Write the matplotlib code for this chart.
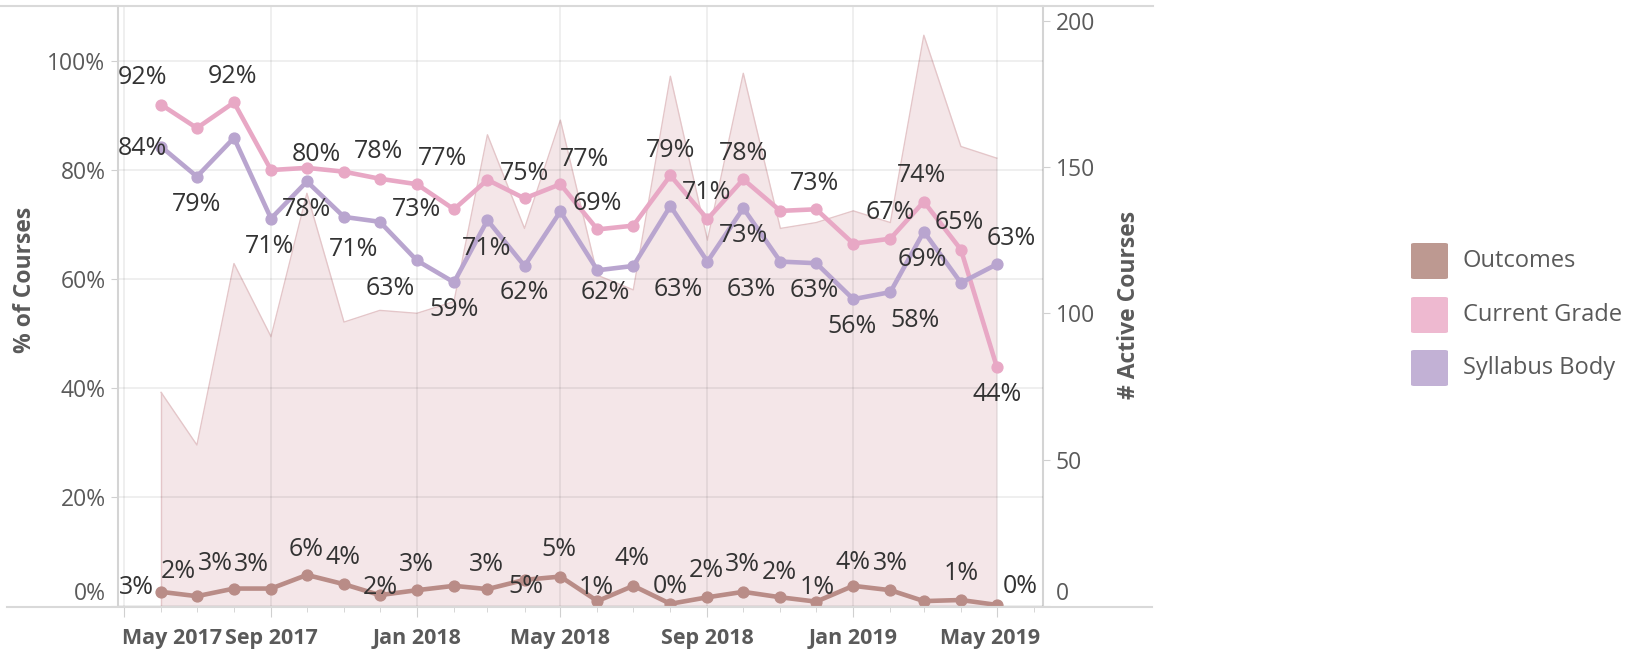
import numpy as np
import pandas as pd
import matplotlib
matplotlib.use("Agg")
import matplotlib.pyplot as plt
import matplotlib.dates as mdates
import matplotlib.transforms as mtransforms
from matplotlib.patches import FancyBboxPatch
from matplotlib.lines import Line2D
from matplotlib.ticker import PercentFormatter

# ---- data ----
months = pd.date_range("2017-06-01", "2019-05-01", freq="MS")
tick_months = pd.date_range("2017-05-01", "2019-05-01", freq="4MS")
tick_labels = ["May 2017", "Sep 2017", "Jan 2018", "May 2018", "Sep 2018", "Jan 2019", "May 2019"]
active_courses = [73, 55, 117, 92, 141, 97, 101, 100, 104, 161, 129, 166,
                  113, 108, 181, 125, 182, 129, 131, 135, 131, 195, 157, 153]
outcomes = [0.026, 0.018, 0.032, 0.032, 0.057, 0.040, 0.020, 0.029, 0.037, 0.031, 0.048, 0.054,
            0.009, 0.037, 0.004, 0.016, 0.026, 0.016, 0.008, 0.037, 0.029, 0.009, 0.011, 0.002]
current_grade = [0.920, 0.877, 0.924, 0.800, 0.804, 0.797, 0.784, 0.774, 0.728, 0.782, 0.748, 0.774,
                 0.691, 0.698, 0.790, 0.710, 0.783, 0.725, 0.728, 0.665, 0.674, 0.742, 0.654, 0.439]
syllabus_body = [0.843, 0.788, 0.859, 0.711, 0.779, 0.714, 0.705, 0.634, 0.594, 0.708, 0.624, 0.724,
                 0.616, 0.624, 0.734, 0.632, 0.730, 0.632, 0.629, 0.563, 0.576, 0.687, 0.593, 0.627]
series_names = ["Outcomes", "Current Grade", "Syllabus Body"]

# label placement (pixel offsets from the point, None = hidden like in Tableau)
out_offsets = [(-25, 4), (-19, 25), (-19, 25), (-20, 24), (-1, 25), (-1, 27), (0, 8), (0, 26), None,
               (-1, 25), (1, -7), (-1, 27), (-1, 14), (-1, 27), (0, 17), (-1, 27), (-1, 27), (-1, 25),
               (1, 14), (0, 23), (0, 27), None, (0, 27), (23, 18)]
cg_offsets = [(-19, 27), None, (-1, 26), None, (9, 13), None, (-1, 27), (26, 26), (-37, 0), None,
              (0, 25), (24, 25), (0, 26), None, (0, 25), (-1, 27), (0, 26), None, (-2, 26), None,
              (0, 26), (-2, 26), (-2, 27), (0, -28)]
sb_offsets = [(-19, -2), (0, -28), None, (-1, -28), (0, -28), (10, -33), None, (-27, -28), (0, -27),
              (-1, -28), (0, -27), None, (8, -22), None, None, (-29, -28), (0, -27), (-29, -28),
              (-2, -27), (-1, -27), (25, -28), (-2, -28), None, (14, 26)]

line_colors = ["#b98c87", "#e8a8c5", "#b9a5cf"]
legend_colors = ["#bd9991", "#eeb9d0", "#c2b1d5"]
GRID = "#000000"
TXT = "#5a5a5a"

plt.rcParams["font.family"] = ["Open Sans", "DejaVu Sans"]

W, H = 1637, 649
fig = plt.figure(figsize=(W / 100, H / 100), dpi=100)


def shift(text, dx, dy):
    # move a text artist by a few pixels
    text.set_transform(text.get_transform() +
                       mtransforms.ScaledTranslation(dx / 100, dy / 100, fig.dpi_scale_trans))


# plot area in pixels: x 118..1043, y 6..606 (top origin)
ax1 = fig.add_axes([118 / W, (H - 606) / H, (1043 - 118) / W, 600 / H])
ax2 = ax1.twinx()

# active courses area on the right axis
ax2.fill_between(months, active_courses, 0, color="#d79ea5", alpha=0.25, lw=0)
ax2.plot(months, active_courses, color="#e4c6c9", lw=1.0)
ax2.vlines(months[0], 0, active_courses[0], color="#e4c6c9", lw=1.0)
ax2.set_ylim(0, 205)
ax2.set_yticks([0, 50, 100, 150, 200])
ax2.tick_params(axis="y", length=5, color="#d0d0d0", labelcolor=TXT, labelsize=16.5, pad=4)
ax2.set_ylabel("# Active Courses", fontsize=16.5, fontweight="bold", color=TXT)
ax2.yaxis.set_label_coords(1.0805, 0.502)

ax1.set_zorder(ax2.get_zorder() + 1)
ax1.patch.set_visible(False)

for vals, col, offs in zip([outcomes, current_grade, syllabus_body], line_colors,
                           [out_offsets, cg_offsets, sb_offsets]):
    ax1.plot(months, vals, color=col, lw=3.3, marker="o", ms=7.8, solid_joinstyle="round",
             solid_capstyle="round", zorder=3)
    for d, v, o in zip(months, vals, offs):
        if o is None:
            continue
        ax1.annotate(f"{v:.0%}", (d, v), xytext=o, textcoords="offset pixels",
                     ha="center", va="center", fontsize=18, color="#333333", zorder=5)

ax1.set_ylim(0, 1.101)
ax1.set_yticks(np.arange(0, 1.01, 0.2))
ax1.yaxis.set_major_formatter(PercentFormatter(1.0, decimals=0))
ax1.tick_params(axis="y", length=5, color="#d0d0d0", labelcolor=TXT, labelsize=16.5, pad=4)
ax1.set_ylabel("% of Courses", fontsize=16.5, fontweight="bold", color=TXT)
ax1.yaxis.set_label_coords(-0.0876, 0.543)

ax1.set_xlim(pd.Timestamp("2017-04-26"), pd.Timestamp("2019-06-08 16:00"))
ax1.set_xticks(tick_months)
ax1.set_xticklabels(tick_labels, fontweight="bold")
ax1.xaxis.set_minor_locator(mdates.MonthLocator())
ax1.tick_params(axis="x", which="major", length=8, color="#d0d0d0", labelcolor=TXT,
                labelsize=15.5, pad=8)
ax1.tick_params(axis="x", which="minor", length=4, color="#d0d0d0")

ax1.grid(True, which="major", color=GRID, alpha=0.075, lw=1.2)
ax1.set_axisbelow(True)

# Tableau nudges edge labels inside the pane
xl = ax1.get_xticklabels()
xl[0].set_horizontalalignment("left")
shift(xl[0], -2, 0)
shift(xl[-1], -7, 0)
shift(ax1.get_yticklabels()[0], 0, 15)
shift(ax2.get_yticklabels()[0], 0, 15)

for ax in (ax1, ax2):
    for s in ("top", "bottom"):
        ax.spines[s].set_visible(False)
ax2.spines["left"].set_visible(False)
ax1.spines["right"].set_visible(False)
ax1.spines["left"].set_color("#d4d4d4")
ax1.spines["left"].set_linewidth(1.5)
ax2.spines["right"].set_color("#d4d4d4")
ax2.spines["right"].set_linewidth(1.5)

# header / footer rules that Tableau draws across the pane
fig.add_artist(Line2D([0, 1153 / W], [(H - 6) / H] * 2, color="#d9d9d9", lw=1.5))
fig.add_artist(Line2D([7 / W, 1152 / W], [(H - 607) / H] * 2, color="#d9d9d9", lw=1.5))

# legend
row_y = [261, 315, 368]
for name, col, y in zip(series_names, legend_colors, row_y):
    box = FancyBboxPatch((1411 / W, (H - y - 18) / H), 37 / W, 36 / H,
                         boxstyle="round,pad=0,rounding_size=0.002", transform=fig.transFigure,
                         facecolor=col, edgecolor="none")
    fig.add_artist(box)
    fig.text(1463 / W, (H - y) / H, name, ha="left", va="center", fontsize=17, color=TXT)

fig.savefig("out.png", dpi=100)
